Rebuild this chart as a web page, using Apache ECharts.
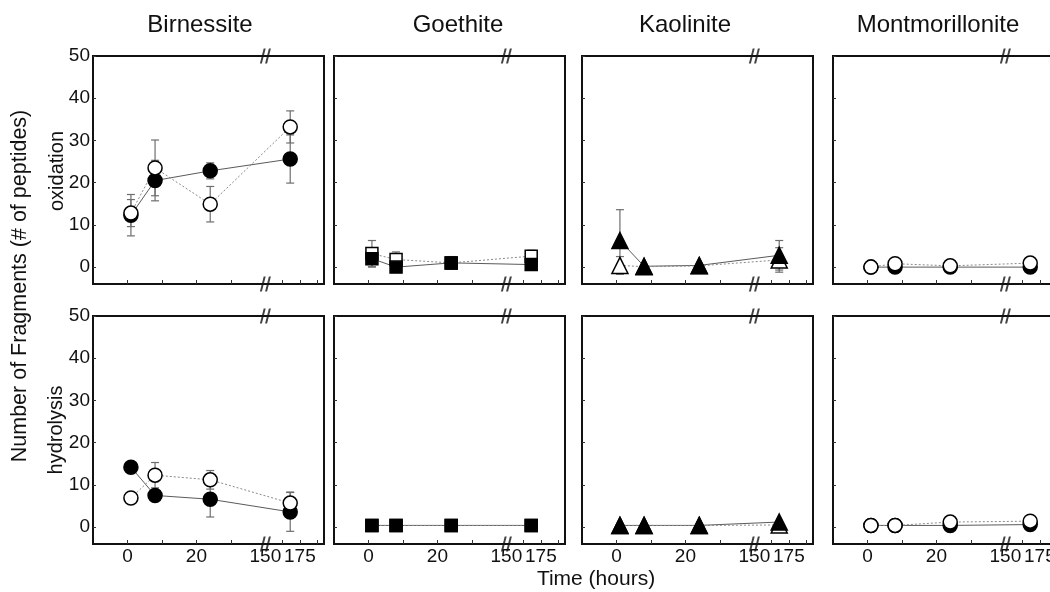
<!DOCTYPE html>
<html>
<head>
<meta charset="utf-8">
<script src="https://cdn.jsdelivr.net/npm/echarts@6/dist/echarts.min.js"></script>
<style>
  html, body { margin: 0; padding: 0; background: #fff; }
  #chart { width: 1050px; height: 592px; }
</style>
</head>
<body>
<div id="chart"></div>
<script>
// Sampling times (hours) and axis ticks
const hours = [1, 8, 24, 168];
const xTickHours = [0, 10, 20, 30, 162.5, 175, 187.5];
const xLabelHours = [0, 20, 150, 175];
const yTicks = [0, 10, 20, 30, 40, 50];
const minerals = ['Birnessite', 'Goethite', 'Kaolinite', 'Montmorillonite'];
const processes = ['oxidation', 'hydrolysis'];

// Birnessite
const birnOxFilled = [12.3, 20.5, 22.8, 25.6];
const birnOxFilledErr = [4.9, 4.8, 1.9, 5.7];
const birnOxOpen = [12.8, 23.5, 14.9, 33.2];
const birnOxOpenErr = [3.2, 6.6, 4.2, 3.8];
const birnHyFilled = [14.2, 7.5, 6.6, 3.6];
const birnHyFilledErr = [0, 0, 4.2, 4.6];
const birnHyOpen = [6.9, 12.3, 11.2, 5.7];
const birnHyOpenErr = [0, 3.0, 2.2, 2.6];

// Goethite
const goeOxFilled = [2.0, 0.0, 1.0, 0.6];
const goeOxFilledErr = [2.0, 0, 1.5, 0];
const goeOxOpen = [3.2, 1.8, 1.0, 2.6];
const goeOxOpenErr = [3.1, 1.8, 0, 1.4];
const goeHyFilled = [0.4, 0.4, 0.4, 0.4];
const goeHyFilledErr = [0, 0, 0, 0];
const goeHyOpen = [0.4, 0.4, 0.4, 0.4];
const goeHyOpenErr = [0, 0, 0, 0];

// Kaolinite
const kaoOxFilled = [6.3, 0.2, 0.4, 2.8];
const kaoOxFilledErr = [7.3, 0, 0, 3.5];
const kaoOxOpen = [0.4, 0.1, 0.3, 1.7];
const kaoOxOpenErr = [2.1, 0, 0, 2.9];
const kaoHyFilled = [0.4, 0.4, 0.4, 1.2];
const kaoHyFilledErr = [0, 0, 0, 0];
const kaoHyOpen = [0.4, 0.4, 0.4, 0.5];
const kaoHyOpenErr = [0, 0, 0, 0];

// Montmorillonite
const monOxFilled = [0, 0, 0, 0];
const monOxFilledErr = [0, 0, 0, 0];
const monOxOpen = [0, 0.8, 0.3, 0.95];
const monOxOpenErr = [0, 0, 0.6, 0];
const monHyFilled = [0.4, 0.4, 0.4, 0.6];
const monHyFilledErr = [0, 0, 0, 0];
const monHyOpen = [0.4, 0.4, 1.2, 1.4];
const monHyOpenErr = [0, 0, 0, 0];

const panelData = {
  Birnessite: {
    oxidation: [birnOxFilled, birnOxFilledErr, birnOxOpen, birnOxOpenErr],
    hydrolysis: [birnHyFilled, birnHyFilledErr, birnHyOpen, birnHyOpenErr]
  },
  Goethite: {
    oxidation: [goeOxFilled, goeOxFilledErr, goeOxOpen, goeOxOpenErr],
    hydrolysis: [goeHyFilled, goeHyFilledErr, goeHyOpen, goeHyOpenErr]
  },
  Kaolinite: {
    oxidation: [kaoOxFilled, kaoOxFilledErr, kaoOxOpen, kaoOxOpenErr],
    hydrolysis: [kaoHyFilled, kaoHyFilledErr, kaoHyOpen, kaoHyOpenErr]
  },
  Montmorillonite: {
    oxidation: [monOxFilled, monOxFilledErr, monOxOpen, monOxOpenErr],
    hydrolysis: [monHyFilled, monHyFilledErr, monHyOpen, monHyOpenErr]
  }
};

// Marker shape per mineral, and which symbol sits in front
const markerStyle = {
  Birnessite: { symbol: 'circle', size: 14, openOnTop: true },
  Goethite: { symbol: 'rect', size: 12, openOnTop: false },
  Kaolinite: { symbol: 'triangle', size: 16, openOnTop: false },
  Montmorillonite: { symbol: 'circle', size: 14, openOnTop: true }
};

// Broken time axis: linear up to the break, compressed after 150 h
const BREAK_HOURS = 150;
const BREAK_POS = 40;
const POST_BREAK_SCALE = 0.4;
function toAxis(h) {
  return h <= BREAK_POS ? h : BREAK_POS + (h - BREAK_HOURS) * POST_BREAK_SCALE;
}

const FONT = '"Liberation Sans", Arial, sans-serif';
const gridLefts = [93, 334, 582, 833];
const gridWidth = 231;
const gridTops = [56, 316];
const gridHeight = 228;
const Y_MIN = -4, Y_MAX = 50;

function renderErr(params, api) {
  const x = api.value(0);
  const lo = api.coord([x, api.value(1)]);
  const hi = api.coord([x, api.value(2)]);
  const w = 4;
  const st = { stroke: '#6e6e6e', lineWidth: 1.2 };
  return {
    type: 'group',
    children: [
      { type: 'line', shape: { x1: lo[0], y1: lo[1], x2: hi[0], y2: hi[1] }, style: st },
      { type: 'line', shape: { x1: lo[0] - w, y1: lo[1], x2: lo[0] + w, y2: lo[1] }, style: st },
      { type: 'line', shape: { x1: hi[0] - w, y1: hi[1], x2: hi[0] + w, y2: hi[1] }, style: st }
    ]
  };
}

const grids = [], xAxes = [], yAxes = [], series = [];
let idx = 0;
processes.forEach((proc, row) => {
  minerals.forEach((min, col) => {
    grids.push({
      left: gridLefts[col], top: gridTops[row], width: gridWidth, height: gridHeight,
      outerBoundsMode: 'none', containLabel: false,
      show: true, borderColor: '#111', borderWidth: 2, backgroundColor: 'transparent'
    });
    xAxes.push({
      type: 'value', gridIndex: idx, min: -10, max: 57,
      axisLine: { show: false, onZero: false },
      splitLine: { show: false },
      axisTick: { show: true, inside: true, length: 4, lineStyle: { color: '#333' },
        customValues: xTickHours.map(toAxis) },
      axisLabel: {
        show: row === 1, margin: 3, fontSize: 19, color: '#111', fontFamily: FONT,
        customValues: xLabelHours.map(toAxis),
        formatter: v => {
          const h = xLabelHours.find(t => Math.abs(toAxis(t) - v) < 1e-6);
          return h === undefined ? '' : String(h);
        }
      }
    });
    yAxes.push({
      type: 'value', gridIndex: idx, min: Y_MIN, max: Y_MAX,
      axisLine: { show: false, onZero: false },
      splitLine: { show: false },
      axisTick: { show: true, inside: true, length: 3, lineStyle: { color: '#333' },
        customValues: yTicks },
      axisLabel: {
        show: col === 0, margin: 3, fontSize: 19, color: '#111', fontFamily: FONT,
        customValues: yTicks
      }
    });

    const [filled, filledErr, open, openErr] = panelData[min][proc];
    const ms = markerStyle[min];
    const sets = [
      { name: 'filled', vals: filled, errs: filledErr, fill: '#000',
        line: { color: '#5a5a5a', width: 1, type: 'solid' }, z: ms.openOnTop ? 4 : 5 },
      { name: 'open', vals: open, errs: openErr, fill: '#fff',
        line: { color: '#8a8a8a', width: 1, type: [2, 2] }, z: ms.openOnTop ? 5 : 4 }
    ];
    sets.forEach(s => {
      const errData = hours
        .map((h, i) => [toAxis(h), s.vals[i] - s.errs[i], s.vals[i] + s.errs[i]])
        .filter((d, i) => s.errs[i] > 0);
      series.push({
        type: 'custom', name: min + ' ' + proc + ' ' + s.name + ' error',
        xAxisIndex: idx, yAxisIndex: idx, renderItem: renderErr,
        encode: { x: 0, y: [1, 2] }, data: errData, z: 2, silent: true
      });
      const pts = hours.map((h, i) => [toAxis(h), s.vals[i]]);
      series.push({
        type: 'line', name: min + ' ' + proc + ' ' + s.name + ' line',
        xAxisIndex: idx, yAxisIndex: idx, data: pts, symbol: 'none',
        lineStyle: s.line, z: 3, silent: true, animation: false
      });
      series.push({
        type: 'scatter', name: min + ' ' + proc + ' ' + s.name,
        xAxisIndex: idx, yAxisIndex: idx, data: pts,
        symbol: ms.symbol, symbolSize: ms.size,
        itemStyle: { color: s.fill, borderColor: '#000', borderWidth: 1.5, opacity: 1 },
        z: s.z, silent: true, animation: false
      });
    });

    // axis-break marks on the top and bottom borders
    series.push({
      type: 'scatter', name: 'break', xAxisIndex: idx, yAxisIndex: idx,
      data: [[toAxis(BREAK_HOURS), Y_MAX], [toAxis(BREAK_HOURS), Y_MIN]],
      symbol: 'path://M0,14 L2,14 L5.8,0 L3.8,0 Z M5.2,14 L7.2,14 L11,0 L9,0 Z',
      symbolSize: [11, 15], itemStyle: { color: '#111' }, z: 6, silent: true,
      clip: false, animation: false
    });
    idx++;
  });
});

function label(text, x, y, size, rotation) {
  return {
    type: 'text', x: x, y: y, rotation: rotation || 0, silent: true, z: 10,
    style: {
      text: text, font: size + 'px ' + FONT, fill: '#111',
      align: 'center', verticalAlign: 'middle',
      textAlign: 'center', textVerticalAlign: 'middle'
    }
  };
}

const titleCenters = [200, 458, 685, 938];
const graphics = minerals.map((m, i) => label(m, titleCenters[i], 25, 24));
graphics.push(label('Time (hours)', 596, 579, 21));
graphics.push(label('Number of Fragments (# of peptides)', 20, 286, 21.5, Math.PI / 2));
graphics.push(label(processes[0], 57, 171, 20, Math.PI / 2));
graphics.push(label(processes[1], 56, 430, 20, Math.PI / 2));

const chart = echarts.init(document.getElementById('chart'), null, { renderer: 'canvas' });
chart.setOption({
  animation: false,
  backgroundColor: '#fff',
  grid: grids,
  xAxis: xAxes,
  yAxis: yAxes,
  series: series,
  graphic: graphics
});
</script>
</body>
</html>
